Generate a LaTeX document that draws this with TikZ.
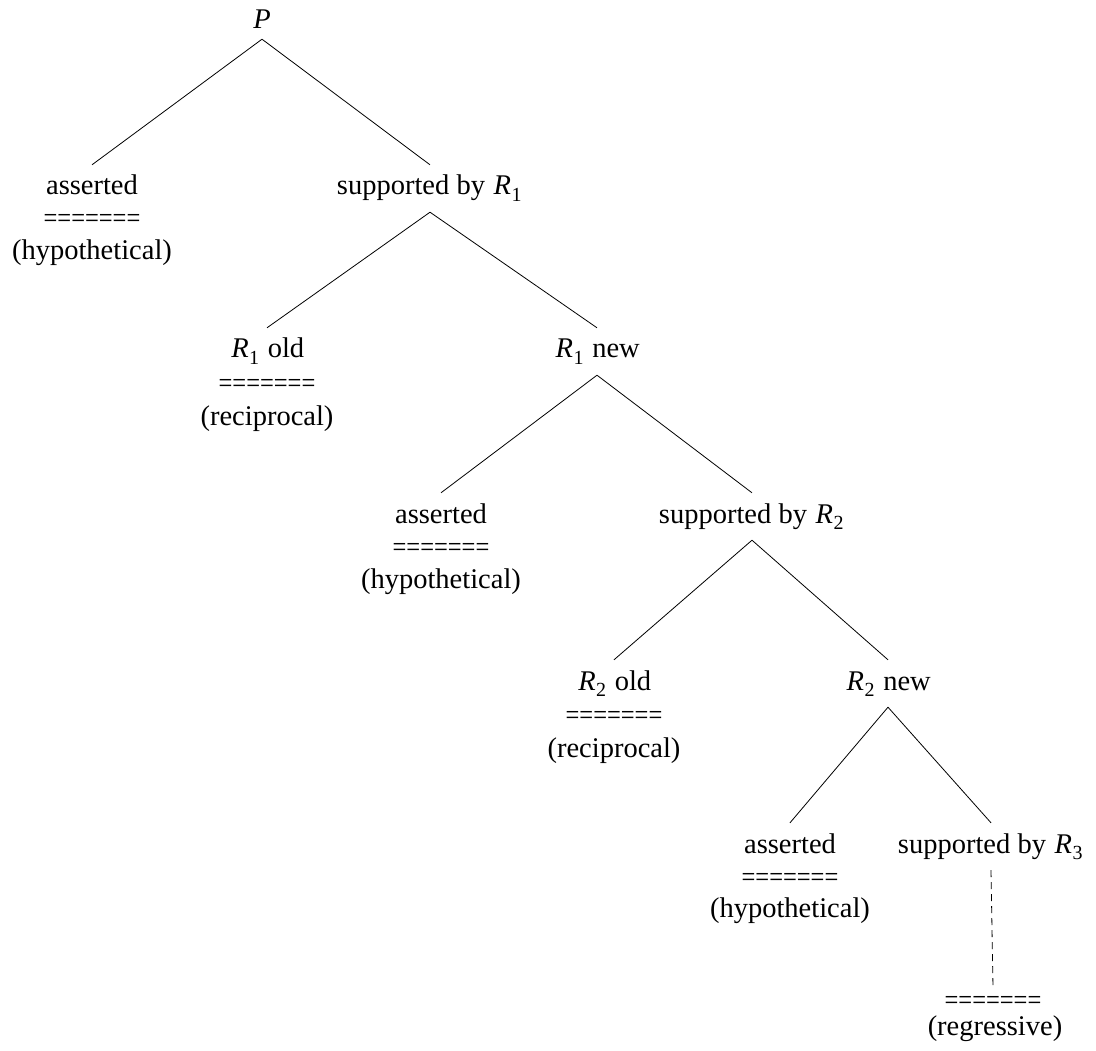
\documentclass[tikz,border=0pt]{standalone}
\usepackage{fontspec}
\setmainfont{Liberation Serif}
\usepackage{graphicx}
\newcommand\Rs[1]{\kern1.5pt\textit{R}\kern0.5pt\raisebox{-0.24em}{\fontsize{20}{20}\selectfont #1}\kern1.5pt\relax}
\newcommand\eqrow{\scalebox{0.86}[1]{=======}}
\begin{document}
\begin{tikzpicture}[x=1pt,y=-1pt,font=\fontsize{28.5}{32}\selectfont,
  lbl/.style={anchor=base,inner sep=0pt,text height=30pt,text depth=17pt},
  txt/.style={anchor=base,inner sep=0pt},
  edge/.style={line width=0.8pt},
  dashedge/.style={line width=0.8pt,dash pattern=on 7pt off 5pt}]
\useasboundingbox (0,0) rectangle (1096,1051);
% level 0
\node[lbl,text depth=10pt] (P) at (262,29) {\textit{P}};
% level 1
\node[lbl] (a1) at (92,195) {asserted};
\node[txt] (a1e) at (92,228) {\eqrow};
\node[txt] (a1h) at (92,260) {(hypothetical)};
\node[lbl] (s1) at (430,195) {supported by \Rs{1}};
% level 2
\node[lbl] (o1) at (267,358) {\Rs{1} old};
\node[txt] (o1e) at (267,392) {\eqrow};
\node[txt] (o1r) at (267,425) {(reciprocal)};
\node[lbl] (n1) at (597,358) {\Rs{1} new};
% level 3
\node[lbl] (a2) at (441,523) {asserted};
\node[txt] (a2e) at (441,556) {\eqrow};
\node[txt] (a2h) at (441,588) {(hypothetical)};
\node[lbl] (s2) at (752,523) {supported by \Rs{2}};
% level 4
\node[lbl] (o2) at (614,690) {\Rs{2} old};
\node[txt] (o2e) at (614,724) {\eqrow};
\node[txt] (o2r) at (614,757) {(reciprocal)};
\node[lbl] (n2) at (888,690) {\Rs{2} new};
% level 5
\node[lbl] (a3) at (790,853) {asserted};
\node[txt] (a3e) at (790,886) {\eqrow};
\node[txt] (a3h) at (790,917) {(hypothetical)};
\node[lbl] (s3) at (991,853) {supported by \Rs{3}};
% regressive
\node[txt,text height=21pt] (re) at (993,1009) {\eqrow};
\node[txt] (rr) at (995,1035) {(regressive)};
% edges
\draw[edge] (P.south) -- (a1.north);
\draw[edge] (P.south) -- (s1.north);
\draw[edge] (s1.south) -- (o1.north);
\draw[edge] (s1.south) -- (n1.north);
\draw[edge] (n1.south) -- (a2.north);
\draw[edge] (n1.south) -- (s2.north);
\draw[edge] (s2.south) -- (o2.north);
\draw[edge] (s2.south) -- (n2.north);
\draw[edge] (n2.south) -- (a3.north);
\draw[edge] (n2.south) -- (s3.north);
\draw[dashedge] (s3.south) -- (re.north);
\end{tikzpicture}
\end{document}
